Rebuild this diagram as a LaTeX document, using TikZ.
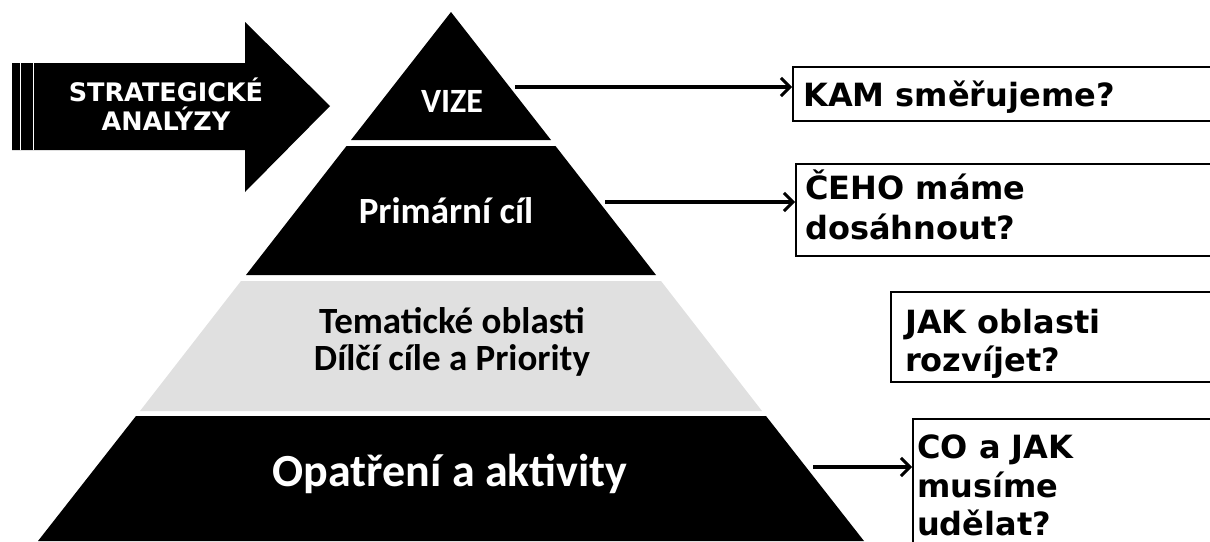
\documentclass[tikz,border=0pt]{standalone}
\usepackage{fontspec}
\newfontfamily\calfont{Carlito}
\newfontfamily\verfont{DejaVu Sans}
\usetikzlibrary{arrows.meta,calc}
\begin{document}
\begin{tikzpicture}[x=1pt,y=-1pt,
  layer/.style={fill=black},
  graylayer/.style={fill=black!12},
  pyrtext/.style={text=white,font=\calfont\bfseries\fontsize{37}{40}\selectfont,inner sep=0pt,anchor=base},
  graytext/.style={text=black,font=\calfont\bfseries\fontsize{37}{40}\selectfont,inner sep=0pt,anchor=base},
  qbox/.style={draw=black,line width=1.6pt,anchor=north west,inner sep=0pt,minimum width=440pt},
  boxtext/.style={font=\verfont\bfseries\fontsize{32}{36}\selectfont,anchor=base west,inner sep=0pt},
  conn/.style={line width=3.2pt,-{Straight Barb[length=9pt,width=18pt,line width=3pt]}}]
\useasboundingbox (0,0) rectangle (1210,541);
\clip (0,0) rectangle (1210,541);

% strategic analysis arrow
\fill[black] (12,63) -- (245,63) -- (245,22) -- (330,106) -- (245,192) -- (245,150) -- (12,150) -- cycle;
\draw[white,line width=1pt] (20,63) -- (20,150) (33,63) -- (33,150);
\node[text=white,font=\verfont\bfseries\fontsize{25.5}{29}\selectfont,align=center,inner sep=0pt] (sa) at (166,104) {STRATEGICKÉ\\ANALÝZY};

% pyramid layers
\fill[layer] (451,12) -- (551,140) -- (351,140) -- cycle;
\fill[layer] (346.5,146) -- (555.5,146) -- (656,275) -- (246,275) -- cycle;
\fill[graylayer] (241,281) -- (661,281) -- (762,411) -- (140,411) -- cycle;
\fill[layer] (136,416) -- (766,416) -- (864,541) -- (38,541) -- cycle;

\node[pyrtext,font=\calfont\bfseries\fontsize{34}{40}\selectfont] (vize) at (452,112) {VIZE};
\node[pyrtext] (cil) at (446,223) {Primární cíl};
\node[graytext] (tem) at (452,333) {Tematické oblasti};
\node[graytext] (dil) at (452,370) {Dílčí cíle a Priority};
\node[pyrtext,font=\calfont\bfseries\fontsize{46}{50}\selectfont] (opa) at (450,486) {Opatření a aktivity};

% question boxes
\node[qbox,minimum height=54pt] (b1) at (792,66) {};
\node[qbox,minimum height=92pt] (b2) at (795,163) {};
\node[qbox,minimum height=90pt] (b3) at (890,291) {};
\node[qbox,minimum height=150pt] (b4) at (912,418) {};

\node[boxtext] (t1) at (803,106) {KAM směřujeme?};
\node[boxtext] (t2a) at (805,199) {ČEHO máme};
\node[boxtext] (t2b) at (805,239) {dosáhnout?};
\node[boxtext] (t3a) at (905,333) {JAK oblasti};
\node[boxtext] (t3b) at (905,371) {rozvíjet?};
\node[boxtext] (t4a) at (917,458) {CO a JAK};
\node[boxtext] (t4b) at (917,497) {musíme};
\node[boxtext] (t4c) at (917,535) {udělat?};

% connectors
\coordinate (s1) at (515,87);
\coordinate (s2) at (605,202);
\coordinate (s4) at (813,467);
\draw[conn] (s1) -- (s1 -| b1.west);
\draw[conn] (s2) -- (s2 -| b2.west);
\draw[conn] (s4) -- (s4 -| b4.west);
\end{tikzpicture}
\end{document}
